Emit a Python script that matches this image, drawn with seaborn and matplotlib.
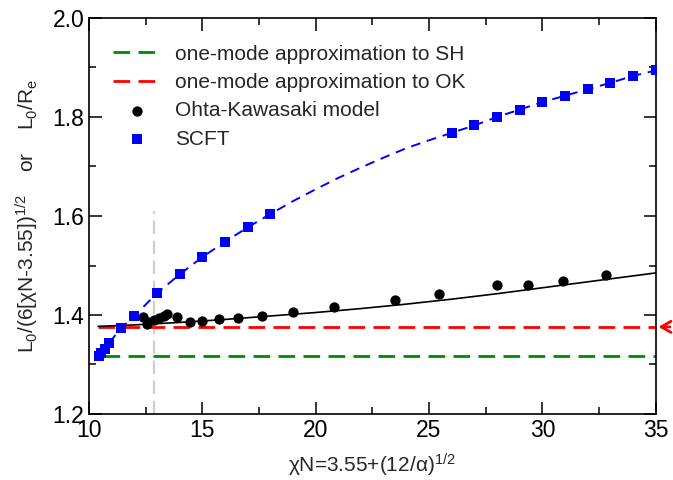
import matplotlib
matplotlib.use("Agg")
import matplotlib.pyplot as plt
import seaborn as sns
from matplotlib.ticker import MultipleLocator, FormatStrFormatter

# --- data -------------------------------------------------------------
# SCFT lamellar period (blue squares)
scft_chin = [10.45, 10.55, 10.7, 10.9, 11.4, 12, 13, 14, 15, 16, 17, 18,
             26, 27, 28, 29, 30, 31, 32, 33, 34, 35]
scft_period = [1.318, 1.324, 1.331, 1.344, 1.373, 1.398, 1.444, 1.482, 1.517,
               1.548, 1.577, 1.604, 1.768, 1.783, 1.800, 1.815, 1.830, 1.843,
               1.856, 1.869, 1.883, 1.894]

# SCFT interpolating curve (blue dashed)
scft_curve_chin = [10.45, 10.7, 10.9, 11.4, 12, 13, 14, 15, 16, 17, 18, 19, 20,
                   21, 22, 23, 24, 25, 26, 27, 28, 29, 30, 31, 32, 33, 34, 35]
scft_curve_period = [1.318, 1.331, 1.344, 1.373, 1.398, 1.444, 1.482, 1.517,
                     1.548, 1.577, 1.604, 1.630, 1.654, 1.677, 1.698, 1.718,
                     1.737, 1.753, 1.768, 1.783, 1.800, 1.815, 1.830, 1.843,
                     1.856, 1.869, 1.883, 1.894]

# Ohta-Kawasaki model (black circles)
ok_chin = [12.40, 12.55, 12.62, 12.85, 13.1, 13.3, 13.45, 13.9, 14.47, 15.0,
           15.73, 16.58, 17.61, 18.98, 20.8, 23.5, 25.42, 28.02, 29.36, 30.92,
           32.8]
ok_period = [1.395, 1.381, 1.386, 1.390, 1.394, 1.398, 1.403, 1.396, 1.385,
             1.388, 1.392, 1.393, 1.398, 1.406, 1.416, 1.430, 1.442, 1.460,
             1.460, 1.469, 1.481]

# Ohta-Kawasaki smooth curve (black solid)
ok_curve_chin = [10.4, 12, 14, 16, 18, 20, 22, 24, 26, 28, 30, 32, 34, 35]
ok_curve_period = [1.377, 1.380, 1.385, 1.391, 1.398, 1.405, 1.413, 1.422,
                   1.432, 1.443, 1.455, 1.467, 1.479, 1.485]

# one-mode approximations (constant levels)
sh_chin = [10.6, 35]
sh_period = [1.318, 1.318]
om_chin = [10.4, 35]
om_period = [1.376, 1.376]

# order-disorder marker
odt_chin = [12.85, 12.85]
odt_span = [1.2, 1.61]

# --- style ------------------------------------------------------------
sns.set_style("ticks")
plt.rcParams["font.family"] = ["Liberation Sans", "DejaVu Sans"]
plt.rcParams["mathtext.fontset"] = "custom"
plt.rcParams["mathtext.rm"] = "Liberation Sans"
plt.rcParams["mathtext.it"] = "Liberation Sans"
plt.rcParams["mathtext.sf"] = "Liberation Sans"

fig = plt.figure(figsize=(6.73, 4.80), dpi=100)
ax = fig.add_axes([89 / 673, 66 / 480, 566.7 / 673, 396 / 480])

# vertical marker (no aggregation over the repeated x value)
sns.lineplot(x=odt_chin, y=odt_span, ax=ax, color="#cfcfcf", lw=1.6,
             linestyle=(0, (6, 3)), estimator=None, errorbar=None,
             sort=False, zorder=1)

# one-mode lines
sns.lineplot(x=sh_chin, y=sh_period, ax=ax, color="#008c00", lw=2.0,
             linestyle=(0, (6, 3)), label="one-mode approximation to SH",
             zorder=2)
sns.lineplot(x=om_chin, y=om_period, ax=ax, color="#ff0000", lw=2.0,
             linestyle=(0, (6, 3)), label="one-mode approximation to OK",
             zorder=2)

# curves
sns.lineplot(x=ok_curve_chin, y=ok_curve_period, ax=ax, color="black",
             lw=1.2, zorder=3)
sns.lineplot(x=scft_curve_chin, y=scft_curve_period, ax=ax, color="#0000ff",
             lw=1.4, linestyle=(0, (5, 3.5)), zorder=3)

# data points
sns.scatterplot(x=ok_chin, y=ok_period, ax=ax, color="black", marker="o",
                s=55, edgecolor="black", linewidth=0,
                label="Ohta-Kawasaki model", zorder=4)
sns.scatterplot(x=scft_chin, y=scft_period, ax=ax, color="#0000ff", marker="s",
                s=45, edgecolor="#0000ff", linewidth=0, label="SCFT", zorder=5)

# arrow marking the one-mode level at the right edge
ax.annotate("", xy=(35.0, om_period[0]), xytext=(35.75, om_period[0]),
            xycoords="data", annotation_clip=False,
            arrowprops=dict(arrowstyle="->,head_length=0.7,head_width=0.4",
                            color="#ff0000", lw=2.0))

ax.set_xlim(10, 35)
ax.set_ylim(1.2, 2.0)
ax.xaxis.set_major_locator(MultipleLocator(5))
ax.xaxis.set_minor_locator(MultipleLocator(2.5))
ax.yaxis.set_major_locator(MultipleLocator(0.2))
ax.yaxis.set_minor_locator(MultipleLocator(0.1))
ax.yaxis.set_major_formatter(FormatStrFormatter("%.1f"))
ax.tick_params(which="both", direction="in", top=True, right=True,
               width=1.1, labelsize=16.5, colors="black")
ax.tick_params(which="major", length=9, pad=3.5)
ax.tick_params(which="minor", length=5)
for sp in ax.spines.values():
    sp.set_linewidth(1.2)
    sp.set_color("black")

ax.set_xlabel("χN=3.55+(12/α)$^{1/2}$", fontsize=15, labelpad=7)
ax.set_ylabel("L$_0$/(6[χN-3.55])$^{1/2}$    or    L$_0$/R$_\\mathrm{e}$",
              fontsize=15, labelpad=8)

handles, labels = ax.get_legend_handles_labels()
ax.legend(handles, labels, loc="upper left", bbox_to_anchor=(0.042, 0.933),
          frameon=False, fontsize=15, borderpad=0, borderaxespad=0,
          labelspacing=0.45, handlelength=2.3, handletextpad=0.7)

fig.savefig("out.png", dpi=100)
